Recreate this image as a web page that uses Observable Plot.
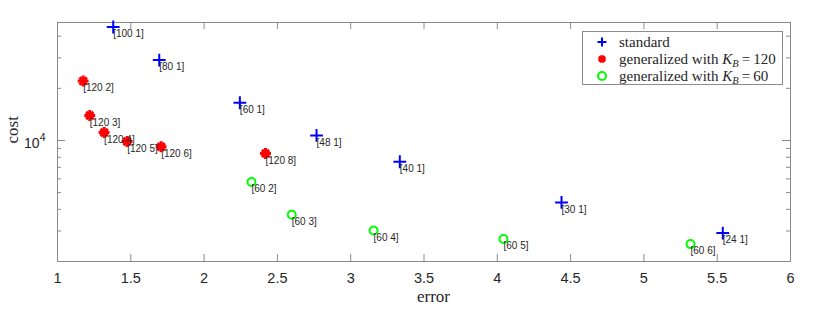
<!DOCTYPE html>
<html><head><meta charset="utf-8">
<script src="https://cdn.jsdelivr.net/npm/d3@7"></script>
<script src="https://cdn.jsdelivr.net/npm/@observablehq/plot@0.6"></script>
<style>
body{margin:0;background:#fff;}
#wrap{position:relative;width:830px;height:309px;}
#legend{position:absolute;left:582px;top:31px;width:201px;height:54px;box-sizing:border-box;border:1px solid #8c8c8c;background:#fff;font-family:"Liberation Serif","Times New Roman",serif;font-size:15px;color:#262626;}
#legend .row{position:absolute;left:0;height:16px;line-height:16px;white-space:nowrap;}
#legend svg{position:absolute;left:12px;top:1px;}
#legend .lab{position:absolute;left:36px;top:0;}
#legend sub{font-size:10.5px;vertical-align:-3px;line-height:0;}
</style></head>
<body><div id="wrap"></div>
<script>
// ---- data ----
const stdLabels = ["[100 1]","[80 1]","[60 1]","[48 1]","[40 1]","[30 1]","[24 1]"];
const stdError  = [1.380, 1.694, 2.244, 2.767, 3.335, 4.438, 5.538];
const stdCost   = [45200, 29140, 16510, 10690, 7535, 4385, 2918];

const g120Labels = ["[120 2]","[120 3]","[120 4]","[120 5]","[120 6]","[120 8]"];
const g120Error  = [1.175, 1.220, 1.318, 1.475, 1.707, 2.419];
const g120Cost   = [22030, 13940, 11120, 9870, 9200, 8410];

const g60Labels = ["[60 2]","[60 3]","[60 4]","[60 5]","[60 6]"];
const g60Error  = [2.323, 2.598, 3.156, 4.042, 5.318];
const g60Cost   = [5750, 3720, 3020, 2700, 2520];

const xTicks = [1, 1.5, 2, 2.5, 3, 3.5, 4, 4.5, 5, 5.5, 6];
const yMajorTicks = [10000];
const yMinorTicks = [2000, 3000, 4000, 5000, 6000, 7000, 8000, 9000, 20000, 30000, 40000];
const xDomain = [1, 6];
const yDomain = [2000, 48000];

const seriesNames = ["standard", "generalized with K_B = 120", "generalized with K_B = 60"];

// ---- build tables ----
const mk = (labels, xs, ys) => labels.map((l, i) => ({label: l, error: xs[i], cost: ys[i]}));
const std = mk(stdLabels, stdError, stdCost);
const g120 = mk(g120Labels, g120Error, g120Cost);
const g60 = mk(g60Labels, g60Error, g60Cost);
const all = [...std, ...g120, ...g60];

const W = 830, H = 309, mL = 57, mR = 40, mT = 22, mB = 48;
const pw = W - mL - mR, ph = H - mT - mB;
const axisColor = "#8a8a8a";
const textColor = "#262626";
const tMaj = 7, tMin = 4;

const chart = Plot.plot({
  width: W, height: H,
  marginLeft: mL, marginRight: mR, marginTop: mT, marginBottom: mB,
  style: {fontFamily: "'Liberation Sans', Arial, sans-serif", color: textColor, background: "white"},
  x: {domain: xDomain, label: null},
  y: {type: "log", domain: yDomain, label: null},
  marks: [
    Plot.axisX(xTicks, {anchor: "bottom", tickSize: 0, tickPadding: 11, fontSize: 14.5, tickFormat: d => String(d), label: null, fill: textColor}),
    Plot.axisY(yMajorTicks, {anchor: "left", tickSize: 0, tickPadding: 12, fontSize: 14, dy: 3, tickFormat: () => "10", label: null, fill: textColor}),
    // inward ticks
    Plot.ruleX(xTicks, {x: d => d, insetTop: ph - tMaj, stroke: axisColor}),
    Plot.ruleX(xTicks, {x: d => d, insetBottom: ph - tMaj, stroke: axisColor}),
    Plot.ruleY(yMajorTicks, {y: d => d, insetRight: pw - tMaj - 1, stroke: axisColor}),
    Plot.ruleY(yMajorTicks, {y: d => d, insetLeft: pw - tMaj - 1, stroke: axisColor}),
    Plot.ruleY(yMinorTicks, {y: d => d, insetRight: pw - tMin, stroke: axisColor}),
    Plot.ruleY(yMinorTicks, {y: d => d, insetLeft: pw - tMin, stroke: axisColor}),
    Plot.frame({stroke: axisColor}),
    // markers
    Plot.dot(std, {x: "error", y: "cost", symbol: "plus", r: 4.2, stroke: "#0000ff", strokeWidth: 2}),
    Plot.dot(g120, {x: "error", y: "cost", symbol: "circle", r: 2.6, fill: "#ff0000", stroke: "none"}),
    Plot.dot(g120, {x: "error", y: "cost", symbol: "plus", r: 3.6, stroke: "#ff0000", strokeWidth: 3}),
    Plot.dot(g120, {x: "error", y: "cost", symbol: "times", r: 3.4, stroke: "#ff0000", strokeWidth: 3}),
    Plot.dot(g60, {x: "error", y: "cost", symbol: "circle", r: 4, stroke: "#00ff00", strokeWidth: 2, fill: "none"}),
    // point labels
    Plot.text(all, {x: "error", y: "cost", text: "label", textAnchor: "start", lineAnchor: "top", dy: 3, fontSize: 10, fill: textColor}),
    // axis titles
    Plot.text(["error"], {frameAnchor: "bottom", lineAnchor: "bottom", dy: 40, dx: 9.5, fontSize: 17, fontFamily: "'Liberation Serif', 'Times New Roman', serif", fill: textColor}),
    Plot.text(["cost"], {frameAnchor: "left", lineAnchor: "bottom", rotate: -90, dx: -39.5, dy: 1.5, fontSize: 17, fontFamily: "'Liberation Serif', 'Times New Roman', serif", fill: textColor})
  ]
});

// superscript exponent on 10^4 label
d3.select(chart).selectAll('g[aria-label="y-axis tick label"] text').each(function() {
  d3.select(this).attr("font-size", 14);
  d3.select(this).append("tspan").attr("dy", "-6.5").attr("font-size", "10.5").text("4");
});

const wrap = document.getElementById("wrap");
wrap.appendChild(chart);

// legend
const fmt = s => s.replace(/K_B/, '<i>K</i><sub><i>B</i></sub>').replace(" = ", "&#8201;=&#8201;");
const syms = [
  '<line x1="7" y1="2.5" x2="7" y2="11.5" stroke="#0000ff" stroke-width="2"/><line x1="2.5" y1="7" x2="11.5" y2="7" stroke="#0000ff" stroke-width="2"/>',
  '<circle cx="7" cy="7" r="2.6" fill="#ff0000"/><line x1="7" y1="3.3" x2="7" y2="10.7" stroke="#ff0000" stroke-width="3"/><line x1="3.3" y1="7" x2="10.7" y2="7" stroke="#ff0000" stroke-width="3"/><line x1="4.2" y1="4.2" x2="9.8" y2="9.8" stroke="#ff0000" stroke-width="3"/><line x1="4.2" y1="9.8" x2="9.8" y2="4.2" stroke="#ff0000" stroke-width="3"/>',
  '<circle cx="7" cy="7" r="4" fill="none" stroke="#00ff00" stroke-width="2"/>'
];
const rowTops = [2, 19, 35.5];
const leg = document.createElement("div");
leg.id = "legend";
leg.innerHTML = seriesNames.map((n, i) =>
  `<div class="row" style="top:${rowTops[i]}px"><svg width="14" height="14">${syms[i]}</svg><span class="lab">${fmt(n)}</span></div>`
).join("");
wrap.appendChild(leg);
</script>
</body></html>
